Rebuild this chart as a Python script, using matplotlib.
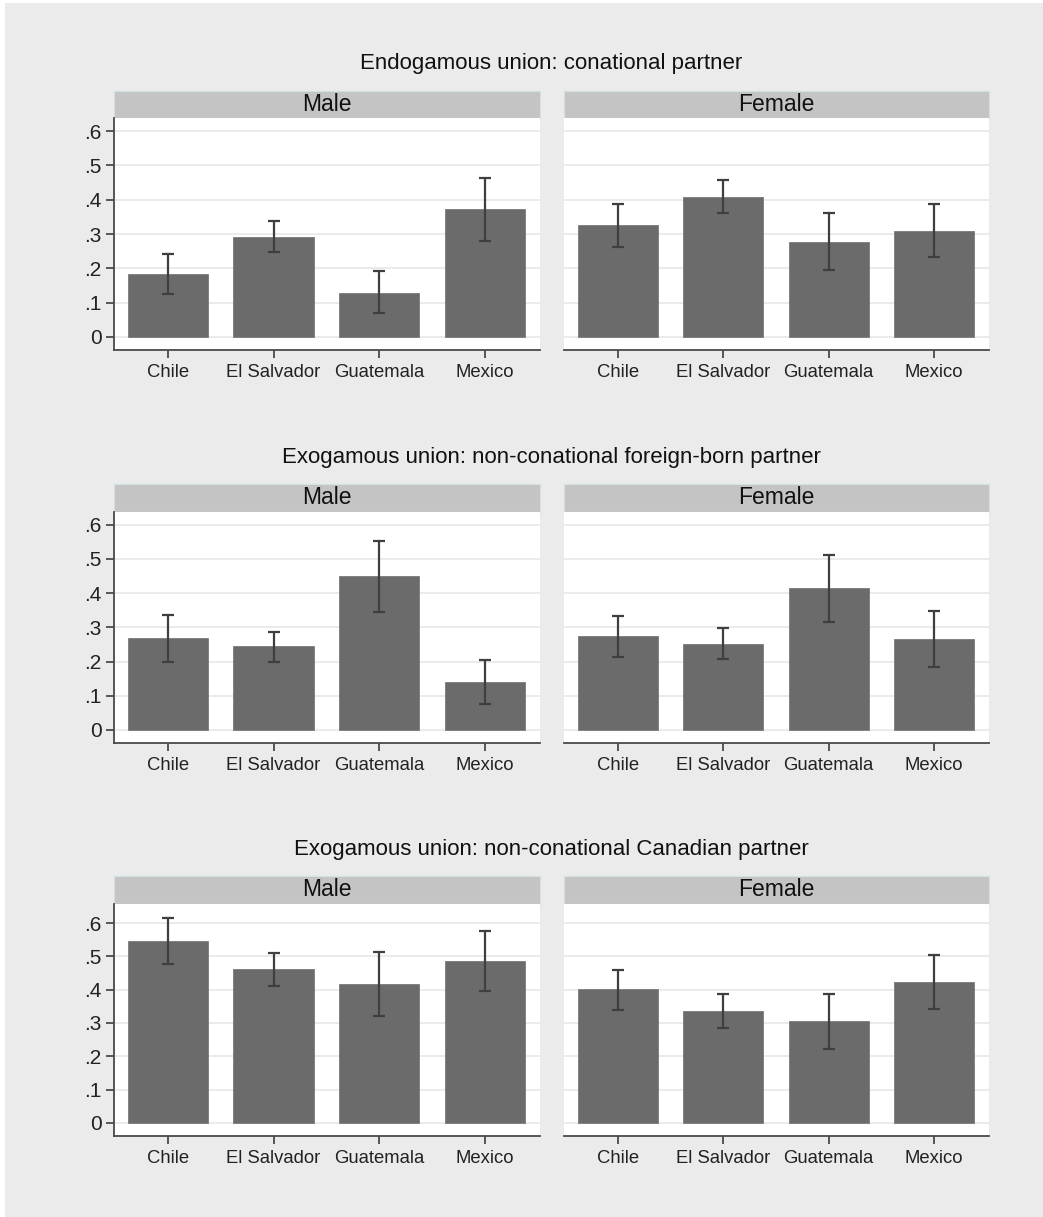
import numpy as np
import matplotlib.pyplot as plt
from matplotlib.patches import Rectangle

plt.rcParams['font.family'] = ['Liberation Sans', 'DejaVu Sans']

countries = ['Chile', 'El Salvador', 'Guatemala', 'Mexico']
sexes = ['Male', 'Female']
union_titles = ['Endogamous union: conational partner',
                'Exogamous union: non-conational foreign-born partner',
                'Exogamous union: non-conational Canadian partner']
ytick_vals = [0, 0.1, 0.2, 0.3, 0.4, 0.5, 0.6]
ytick_labels = ['0', '.1', '.2', '.3', '.4', '.5', '.6']

# proportion and 95% CI bounds, one list per sex/union type
endo_male = [0.184, 0.292, 0.129, 0.372]
endo_male_lo = [0.126, 0.249, 0.069, 0.281]
endo_male_hi = [0.242, 0.337, 0.191, 0.462]
endo_female = [0.325, 0.409, 0.277, 0.310]
endo_female_lo = [0.262, 0.361, 0.196, 0.233]
endo_female_hi = [0.388, 0.458, 0.360, 0.386]

foreign_male = [0.269, 0.244, 0.450, 0.139]
foreign_male_lo = [0.200, 0.200, 0.346, 0.075]
foreign_male_hi = [0.335, 0.287, 0.553, 0.204]
foreign_female = [0.274, 0.252, 0.414, 0.265]
foreign_female_lo = [0.214, 0.207, 0.317, 0.183]
foreign_female_hi = [0.332, 0.299, 0.510, 0.347]

canadian_male = [0.545, 0.462, 0.418, 0.487]
canadian_male_lo = [0.477, 0.411, 0.322, 0.397]
canadian_male_hi = [0.615, 0.511, 0.514, 0.576]
canadian_female = [0.401, 0.335, 0.306, 0.423]
canadian_female_lo = [0.340, 0.286, 0.223, 0.342]
canadian_female_hi = [0.459, 0.386, 0.388, 0.503]

rows = [
    [(endo_male, endo_male_lo, endo_male_hi),
     (endo_female, endo_female_lo, endo_female_hi)],
    [(foreign_male, foreign_male_lo, foreign_male_hi),
     (foreign_female, foreign_female_lo, foreign_female_hi)],
    [(canadian_male, canadian_male_lo, canadian_male_hi),
     (canadian_female, canadian_female_lo, canadian_female_hi)],
]

W, H = 1043, 1217
fig = plt.figure(figsize=(W / 100, H / 100), dpi=100, facecolor='white')
fig.patches.append(Rectangle((5 / W, 0), 1, 1 - 3 / H, transform=fig.transFigure,
                             facecolor='#ebebeb', edgecolor='none', zorder=-10))


def px_box(x0, y0, x1, y1):
    return [x0 / W, 1 - y1 / H, (x1 - x0) / W, (y1 - y0) / H]


# pixel layout of each row: title y, strip top, plot top, plot bottom, ylim
row_layout = [
    (63, 91, 118, 350, (-0.038, 0.638)),
    (457, 484, 512, 743, (-0.038, 0.637)),
    (850, 876, 904, 1136, (-0.039, 0.657)),
]
col_x = [(114, 540), (564, 989)]

bar_color = '#6b6b6b'
axis_color = '#4a4a4a'
x = np.arange(len(countries))

for r, (ty, st, pt, pb, ylim) in enumerate(row_layout):
    fig.text(551.5 / W, 1 - ty / H, union_titles[r], ha='center', va='center',
             fontsize=16, color='#111111')
    for c, (x0, x1) in enumerate(col_x):
        mean, lo, hi = rows[r][c]

        sax = fig.add_axes(px_box(x0, st, x1, pt))
        sax.set_facecolor('#c4c4c4')
        sax.set_xticks([])
        sax.set_yticks([])
        for s in sax.spines.values():
            s.set_color('#d3dfe5')
            s.set_linewidth(0.8)
        sax.text(0.5, 0.5, sexes[c], ha='center', va='center', fontsize=16.5,
                 color='#111111', transform=sax.transAxes)

        ax = fig.add_axes(px_box(x0, pt, x1, pb))
        ax.set_facecolor('white')
        ax.bar(x, mean, width=0.76, color=bar_color, edgecolor='#7a7a7a',
               linewidth=0.6, zorder=2)
        yerr = [np.array(mean) - np.array(lo), np.array(hi) - np.array(mean)]
        ax.errorbar(x, mean, yerr=yerr, fmt='none', ecolor='#3f3f3f',
                    elinewidth=1.6, capsize=4.5, capthick=1.6, zorder=3)
        ax.set_xlim(-0.51, 3.52)
        ax.set_ylim(*ylim)
        ax.set_yticks(ytick_vals)
        ax.yaxis.grid(True, color='#e8e8e8', linewidth=1.2, zorder=0)
        ax.set_axisbelow(True)
        ax.set_xticks(x)
        ax.set_xticklabels(countries, fontsize=13.3, color='#222222')
        ax.tick_params(axis='x', length=6, width=1.3, color=axis_color, pad=4)
        for side in ['top', 'right']:
            ax.spines[side].set_visible(False)
        ax.spines['bottom'].set_color(axis_color)
        ax.spines['bottom'].set_linewidth(1.3)
        if c == 0:
            ax.set_yticklabels(ytick_labels, fontsize=15, color='#222222')
            ax.tick_params(axis='y', length=6, width=1.3, color=axis_color, pad=3)
            ax.spines['left'].set_color(axis_color)
            ax.spines['left'].set_linewidth(1.3)
        else:
            ax.spines['left'].set_visible(False)
            ax.tick_params(axis='y', left=False, labelleft=False)

fig.savefig('out.png', dpi=100, facecolor=fig.get_facecolor())
